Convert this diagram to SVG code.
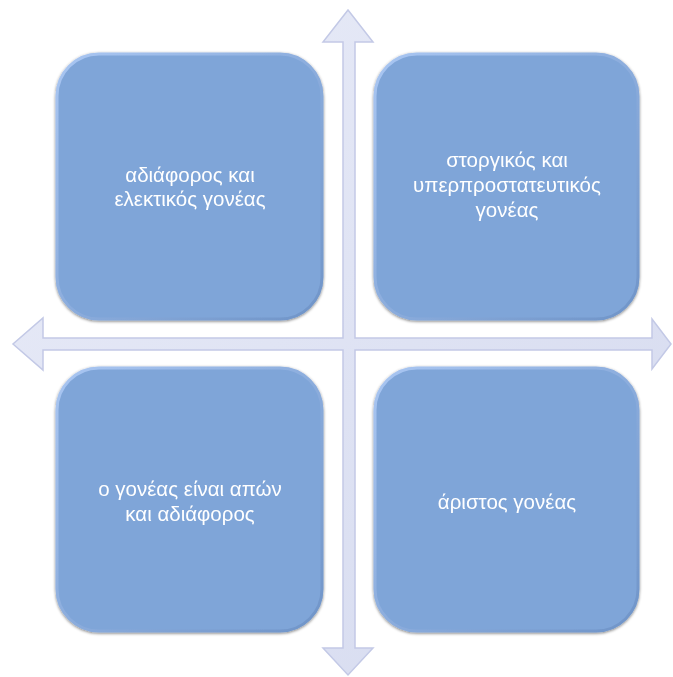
<svg xmlns="http://www.w3.org/2000/svg" width="673" height="677" viewBox="0 0 673 677">
<defs>
<style>
.box{fill:#7fa5d8;stroke:url(#edge);stroke-width:3}
.txt{font-family:"Liberation Sans","Noto Sans",sans-serif;font-size:20.5px;fill:#ffffff;text-anchor:middle}
.arr{fill:url(#ag);stroke:#c3c9e6;stroke-width:1.5;stroke-linejoin:miter}
</style>
<linearGradient id="edge" x1="0" y1="0" x2="1" y2="1">
<stop offset="0" stop-color="#a9c6f2"/>
<stop offset="1" stop-color="#6f94c8"/>
</linearGradient>
<linearGradient id="ag" x1="0" y1="0" x2="1" y2="1">
<stop offset="0" stop-color="#e9ecf8"/>
<stop offset="1" stop-color="#d5daef"/>
</linearGradient>
<filter id="sh" x="-10%" y="-10%" width="120%" height="120%">
<feGaussianBlur in="SourceAlpha" stdDeviation="1.5"/>
<feOffset dx="0" dy="0.5"/>
<feComponentTransfer><feFuncA type="linear" slope="0.5"/></feComponentTransfer>
<feMerge><feMergeNode/><feMergeNode in="SourceGraphic"/></feMerge>
</filter>
</defs>
<g id="connectors">
<path class="arr" d="M348,10 L373,42 L355,42 L355,338 L652,338 L652,319 L671,344 L652,369 L652,350 L355,350 L355,648 L373,648 L348,675 L323,648 L343,648 L343,350 L43,350 L43,370 L13,344 L43,318 L43,338 L343,338 L343,42 L323,42 Z"/>
</g>
<g id="node-tl" filter="url(#sh)">
<rect class="box" x="57" y="54" width="265" height="265" rx="42"/>
<text class="txt" x="190" y="182">αδιάφορος και</text>
<text class="txt" x="190" y="206">ελεκτικός γονέας</text>
</g>
<g id="node-tr" filter="url(#sh)">
<rect class="box" x="375" y="54" width="263" height="265" rx="42"/>
<text class="txt" x="507" y="167">στοργικός και</text>
<text class="txt" x="507" y="192">υπερπροστατευτικός</text>
<text class="txt" x="507" y="217">γονέας</text>
</g>
<g id="node-bl" filter="url(#sh)">
<rect class="box" x="57" y="368" width="265" height="263" rx="42"/>
<text class="txt" x="190" y="496">ο γονέας είναι απών</text>
<text class="txt" x="190" y="521">και αδιάφορος</text>
</g>
<g id="node-br" filter="url(#sh)">
<rect class="box" x="375" y="368" width="263" height="263" rx="42"/>
<text class="txt" x="507" y="509">άριστος γονέας</text>
</g>
</svg>
